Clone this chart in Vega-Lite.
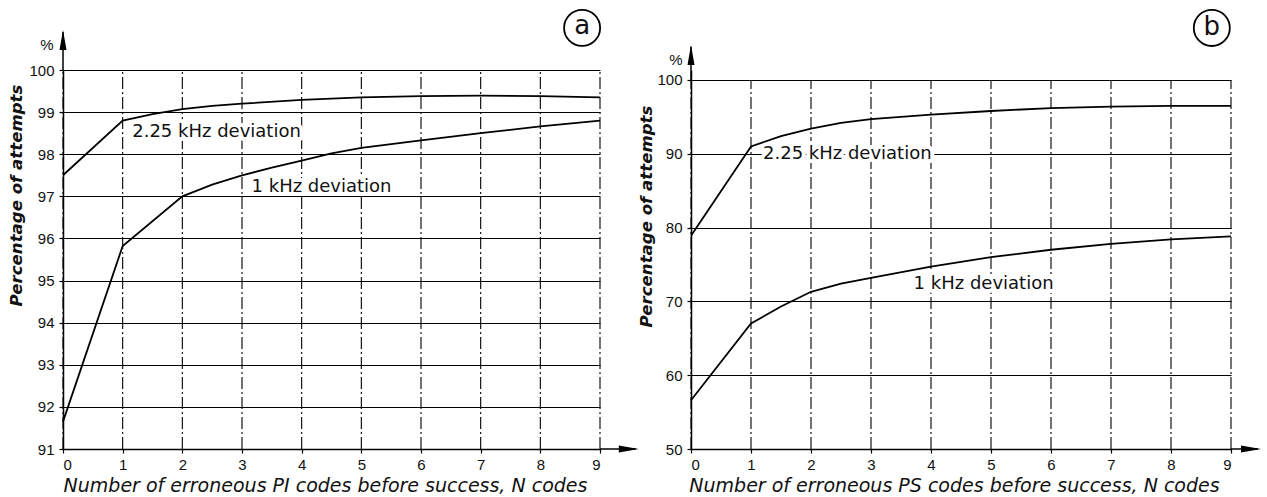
{
  "$schema": "https://vega.github.io/schema/vega-lite/v6.json",
  "background": "white",
  "padding": {"left": 7, "top": 6, "right": 0, "bottom": 0},
  "config": {
    "view": {"stroke": null},
    "axis": {
      "labelFont": "Liberation Sans",
      "labelFontSize": 15,
      "labelColor": "#111",
      "domainColor": "black",
      "domainWidth": 1.5,
      "tickColor": "black",
      "tickSize": 4,
      "tickWidth": 1.2,
      "titleFont": "DejaVu Sans",
      "titleFontStyle": "italic",
      "titleFontWeight": "bold",
      "titleFontSize": 16.6,
      "titleColor": "#111"
    }
  },
  "spacing": 91,
  "bounds": "flush",
  "hconcat": [
    {
      "width": 537,
      "height": 379,
      "data": {"values": [
        {"N": 0, "pct": 97.5, "series": "2.25 kHz deviation"},
        {"N": 1, "pct": 98.8, "series": "2.25 kHz deviation"},
        {"N": 1.5, "pct": 98.95, "series": "2.25 kHz deviation"},
        {"N": 2, "pct": 99.07, "series": "2.25 kHz deviation"},
        {"N": 2.5, "pct": 99.15, "series": "2.25 kHz deviation"},
        {"N": 3, "pct": 99.2, "series": "2.25 kHz deviation"},
        {"N": 4, "pct": 99.29, "series": "2.25 kHz deviation"},
        {"N": 5, "pct": 99.35, "series": "2.25 kHz deviation"},
        {"N": 6, "pct": 99.38, "series": "2.25 kHz deviation"},
        {"N": 7, "pct": 99.39, "series": "2.25 kHz deviation"},
        {"N": 8, "pct": 99.38, "series": "2.25 kHz deviation"},
        {"N": 9, "pct": 99.35, "series": "2.25 kHz deviation"},
        {"N": 0, "pct": 91.65, "series": "1 kHz deviation"},
        {"N": 1, "pct": 95.82, "series": "1 kHz deviation"},
        {"N": 2, "pct": 97.0, "series": "1 kHz deviation"},
        {"N": 2.5, "pct": 97.28, "series": "1 kHz deviation"},
        {"N": 3, "pct": 97.5, "series": "1 kHz deviation"},
        {"N": 3.5, "pct": 97.68, "series": "1 kHz deviation"},
        {"N": 4, "pct": 97.85, "series": "1 kHz deviation"},
        {"N": 4.5, "pct": 98.02, "series": "1 kHz deviation"},
        {"N": 5, "pct": 98.15, "series": "1 kHz deviation"},
        {"N": 6, "pct": 98.33, "series": "1 kHz deviation"},
        {"N": 7, "pct": 98.5, "series": "1 kHz deviation"},
        {"N": 8, "pct": 98.66, "series": "1 kHz deviation"},
        {"N": 9, "pct": 98.8, "series": "1 kHz deviation"}
      ]},
      "layer": [
        {
          "transform": [{"filter": "datum.series === '1 kHz deviation' && datum.N === floor(datum.N)"}],
          "mark": {"type": "rule", "color": "black", "strokeWidth": 1.1, "strokeDash": [12, 3, 2, 3]},
          "encoding": {
            "x": {
              "field": "N", "type": "quantitative",
              "scale": {"domain": [0, 9], "nice": false, "zero": false},
              "axis": {
                "values": [0, 1, 2, 3, 4, 5, 6, 7, 8, 9], "format": "d", "grid": false,
                "labelPadding": 4,
                "title": "Number of erroneous PI codes before success, N codes",
                "titleFontSize": 19, "titleFontWeight": "normal",
                "titleX": 262, "titleY": 36, "titleBaseline": "middle"
              }
            },
            "y": {
              "datum": 91, "type": "quantitative",
              "scale": {"domain": [91, 100], "nice": false, "zero": false},
              "axis": {
                "values": [91, 92, 93, 94, 95, 96, 97, 98, 99, 100], "format": "d",
                "grid": true, "gridColor": "black", "gridWidth": 1.2, "gridOpacity": 1,
                "labelPadding": 5,
                "title": "Percentage of attempts",
                "titleX": -47, "titleY": 125, "titleBaseline": "middle", "titleAngle": -90
              }
            },
            "y2": {"datum": 100}
          }
        },
        {
          "data": {"values": [
            {"N": 1.16, "pct": 98.52, "label": "2.25 kHz deviation"},
            {"N": 3.16, "pct": 97.23, "label": "1 kHz deviation"}
          ]},
          "mark": {"type": "text", "align": "left", "baseline": "middle", "font": "DejaVu Sans", "fontSize": 18, "color": "white", "stroke": "white", "strokeWidth": 8, "strokeJoin": "round"},
          "encoding": {"x": {"field": "N", "type": "quantitative"}, "y": {"field": "pct", "type": "quantitative"}, "text": {"field": "label"}}
        },
        {
          "mark": {"type": "line", "color": "black", "strokeWidth": 1.8},
          "encoding": {
            "x": {"field": "N", "type": "quantitative"},
            "y": {"field": "pct", "type": "quantitative"},
            "detail": {"field": "series"}
          }
        },
        {
          "data": {"values": [
            {"N": 1.16, "pct": 98.52, "label": "2.25 kHz deviation"},
            {"N": 3.16, "pct": 97.23, "label": "1 kHz deviation"}
          ]},
          "mark": {"type": "text", "align": "left", "baseline": "middle", "font": "DejaVu Sans", "fontSize": 18, "color": "#111"},
          "encoding": {"x": {"field": "N", "type": "quantitative"}, "y": {"field": "pct", "type": "quantitative"}, "text": {"field": "label"}}
        },
        {
          "data": {"values": [{}]},
          "mark": {"type": "rule", "color": "black", "strokeWidth": 1.5},
          "encoding": {"x": {"datum": 9}, "x2": {"datum": 9.6}, "y": {"datum": 91}}
        },
        {
          "data": {"values": [{}]},
          "mark": {"type": "rule", "color": "black", "strokeWidth": 1.5},
          "encoding": {"x": {"datum": 0}, "y": {"datum": 100}, "y2": {"datum": 100.9}}
        },
        {
          "data": {"values": [{}]},
          "mark": {"type": "point", "shape": "M0,0L-2,-0.35L-2,0.35Z", "filled": true, "color": "black", "opacity": 1, "size": 400},
          "encoding": {"x": {"datum": 9.65}, "y": {"datum": 91}}
        },
        {
          "data": {"values": [{}]},
          "mark": {"type": "point", "shape": "M0,0L-0.35,2L0.35,2Z", "filled": true, "color": "black", "opacity": 1, "size": 400},
          "encoding": {"x": {"datum": 0}, "y": {"datum": 100.95}}
        },
        {
          "data": {"values": [{}]},
          "mark": {"type": "text", "text": "%", "font": "Liberation Sans", "fontSize": 15, "align": "center", "baseline": "middle", "color": "#111"},
          "encoding": {"x": {"datum": -0.27}, "y": {"datum": 100.6}}
        },
        {
          "data": {"values": [{}]},
          "mark": {"type": "point", "shape": "circle", "filled": false, "color": "black", "strokeWidth": 1.8, "opacity": 1, "size": 1300},
          "encoding": {"x": {"datum": 8.7}, "y": {"datum": 101.0}}
        },
        {
          "data": {"values": [{}]},
          "mark": {"type": "text", "text": "a", "font": "DejaVu Sans", "fontSize": 26, "align": "center", "baseline": "middle", "dy": -2, "color": "#111"},
          "encoding": {"x": {"datum": 8.7}, "y": {"datum": 101.0}}
        }
      ]
    },
    {
      "width": 540,
      "height": 379,
      "data": {"values": [
        {"N": 0, "pct": 78.9, "series": "2.25 kHz deviation"},
        {"N": 1, "pct": 91.0, "series": "2.25 kHz deviation"},
        {"N": 1.5, "pct": 92.4, "series": "2.25 kHz deviation"},
        {"N": 2, "pct": 93.4, "series": "2.25 kHz deviation"},
        {"N": 2.5, "pct": 94.2, "series": "2.25 kHz deviation"},
        {"N": 3, "pct": 94.7, "series": "2.25 kHz deviation"},
        {"N": 4, "pct": 95.3, "series": "2.25 kHz deviation"},
        {"N": 5, "pct": 95.8, "series": "2.25 kHz deviation"},
        {"N": 6, "pct": 96.2, "series": "2.25 kHz deviation"},
        {"N": 7, "pct": 96.4, "series": "2.25 kHz deviation"},
        {"N": 8, "pct": 96.5, "series": "2.25 kHz deviation"},
        {"N": 9, "pct": 96.5, "series": "2.25 kHz deviation"},
        {"N": 0, "pct": 56.6, "series": "1 kHz deviation"},
        {"N": 1, "pct": 67.0, "series": "1 kHz deviation"},
        {"N": 1.5, "pct": 69.3, "series": "1 kHz deviation"},
        {"N": 2, "pct": 71.3, "series": "1 kHz deviation"},
        {"N": 2.5, "pct": 72.4, "series": "1 kHz deviation"},
        {"N": 3, "pct": 73.2, "series": "1 kHz deviation"},
        {"N": 4, "pct": 74.7, "series": "1 kHz deviation"},
        {"N": 5, "pct": 76.0, "series": "1 kHz deviation"},
        {"N": 6, "pct": 77.0, "series": "1 kHz deviation"},
        {"N": 7, "pct": 77.8, "series": "1 kHz deviation"},
        {"N": 8, "pct": 78.4, "series": "1 kHz deviation"},
        {"N": 9, "pct": 78.8, "series": "1 kHz deviation"}
      ]},
      "layer": [
        {
          "transform": [{"filter": "datum.series === '1 kHz deviation' && datum.N === floor(datum.N)"}],
          "mark": {"type": "rule", "color": "black", "strokeWidth": 1.1, "strokeDash": [12, 3, 2, 3]},
          "encoding": {
            "x": {
              "field": "N", "type": "quantitative",
              "scale": {"domain": [0, 9], "nice": false, "zero": false},
              "axis": {
                "values": [0, 1, 2, 3, 4, 5, 6, 7, 8, 9], "format": "d", "grid": false,
                "labelPadding": 4,
                "title": "Number of erroneous PS codes before success, N codes",
                "titleFontSize": 19, "titleFontWeight": "normal",
                "titleX": 263, "titleY": 36, "titleBaseline": "middle"
              }
            },
            "y": {
              "datum": 50, "type": "quantitative",
              "scale": {"domain": [50, 101.355], "nice": false, "zero": false},
              "axis": {
                "values": [50, 60, 70, 80, 90, 100], "format": "d",
                "grid": true, "gridColor": "black", "gridWidth": 1.2, "gridOpacity": 1,
                "labelPadding": 5,
                "title": "Percentage of attempts",
                "titleX": -45, "titleY": 146, "titleBaseline": "middle", "titleAngle": -90
              }
            },
            "y2": {"datum": 100}
          }
        },
        {
          "data": {"values": [
            {"N": 1.2, "pct": 90.0, "label": "2.25 kHz deviation"},
            {"N": 3.71, "pct": 72.3, "label": "1 kHz deviation"}
          ]},
          "mark": {"type": "text", "align": "left", "baseline": "middle", "font": "DejaVu Sans", "fontSize": 18, "color": "white", "stroke": "white", "strokeWidth": 8, "strokeJoin": "round"},
          "encoding": {"x": {"field": "N", "type": "quantitative"}, "y": {"field": "pct", "type": "quantitative"}, "text": {"field": "label"}}
        },
        {
          "mark": {"type": "line", "color": "black", "strokeWidth": 1.8},
          "encoding": {
            "x": {"field": "N", "type": "quantitative"},
            "y": {"field": "pct", "type": "quantitative"},
            "detail": {"field": "series"}
          }
        },
        {
          "data": {"values": [
            {"N": 1.2, "pct": 90.0, "label": "2.25 kHz deviation"},
            {"N": 3.71, "pct": 72.3, "label": "1 kHz deviation"}
          ]},
          "mark": {"type": "text", "align": "left", "baseline": "middle", "font": "DejaVu Sans", "fontSize": 18, "color": "#111"},
          "encoding": {"x": {"field": "N", "type": "quantitative"}, "y": {"field": "pct", "type": "quantitative"}, "text": {"field": "label"}}
        },
        {
          "data": {"values": [{}]},
          "mark": {"type": "rule", "color": "black", "strokeWidth": 1.5},
          "encoding": {"x": {"datum": 9}, "x2": {"datum": 9.45}, "y": {"datum": 50}}
        },
        {
          "data": {"values": [{}]},
          "mark": {"type": "rule", "color": "black", "strokeWidth": 1.5},
          "encoding": {"x": {"datum": 0}, "y": {"datum": 100}, "y2": {"datum": 104.5}}
        },
        {
          "data": {"values": [{}]},
          "mark": {"type": "point", "shape": "M0,0L-2,-0.35L-2,0.35Z", "filled": true, "color": "black", "opacity": 1, "size": 400},
          "encoding": {"x": {"datum": 9.5}, "y": {"datum": 50}}
        },
        {
          "data": {"values": [{}]},
          "mark": {"type": "point", "shape": "M0,0L-0.35,2L0.35,2Z", "filled": true, "color": "black", "opacity": 1, "size": 400},
          "encoding": {"x": {"datum": 0}, "y": {"datum": 104.74}}
        },
        {
          "data": {"values": [{}]},
          "mark": {"type": "text", "text": "%", "font": "Liberation Sans", "fontSize": 15, "align": "center", "baseline": "middle", "color": "#111"},
          "encoding": {"x": {"datum": -0.25}, "y": {"datum": 102.7}}
        },
        {
          "data": {"values": [{}]},
          "mark": {"type": "point", "shape": "circle", "filled": false, "color": "black", "strokeWidth": 1.8, "opacity": 1, "size": 1300},
          "encoding": {"x": {"datum": 8.68}, "y": {"datum": 107.05}}
        },
        {
          "data": {"values": [{}]},
          "mark": {"type": "text", "text": "b", "font": "DejaVu Sans", "fontSize": 26, "align": "center", "baseline": "middle", "dy": -1, "color": "#111"},
          "encoding": {"x": {"datum": 8.68}, "y": {"datum": 107.05}}
        }
      ]
    }
  ]
}
